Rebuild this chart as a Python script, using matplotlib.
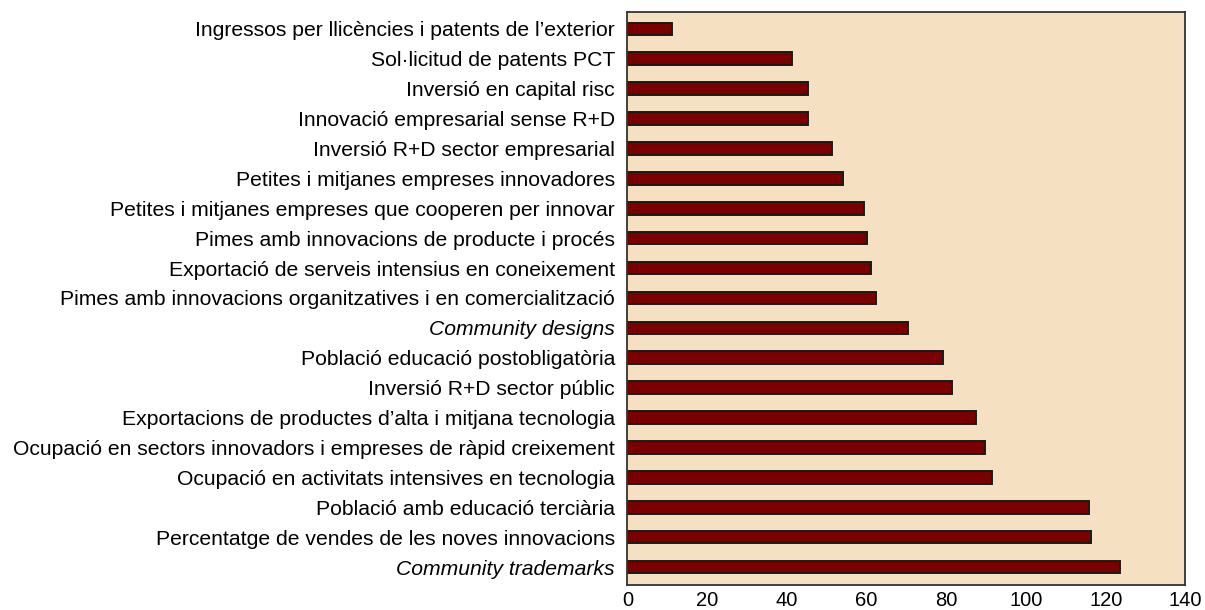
import matplotlib
matplotlib.use("Agg")
import matplotlib.pyplot as plt
import numpy as np

# indicator labels, top to bottom as in the chart
labels = [
    "Ingressos per llicències i patents de l\u2019exterior",
    "Sol\u00b7licitud de patents PCT",
    "Inversió en capital risc",
    "Innovació empresarial sense R+D",
    "Inversió R+D sector empresarial",
    "Petites i mitjanes empreses innovadores",
    "Petites i mitjanes empreses que cooperen per innovar",
    "Pimes amb innovacions de producte i procés",
    "Exportació de serveis intensius en coneixement",
    "Pimes amb innovacions organitzatives i en comercialització",
    "Community designs",
    "Població educació postobligatòria",
    "Inversió R+D sector públic",
    "Exportacions de productes d\u2019alta i mitjana tecnologia",
    "Ocupació en sectors innovadors i empreses de ràpid creixement",
    "Ocupació en activitats intensives en tecnologia",
    "Població amb educació terciària",
    "Percentatge de vendes de les noves innovacions",
    "Community trademarks",
]
values = [11.2, 41.3, 45.4, 45.4, 51.3, 54.2, 59.4, 60.2, 61.2, 62.3,
          70.3, 79.2, 81.4, 87.5, 89.6, 91.5, 115.7, 116.4, 123.5]
italic_labels = ["Community designs", "Community trademarks"]
xticks = [0, 20, 40, 60, 80, 100, 120, 140]

plt.rcParams['font.family'] = ['Liberation Sans', 'DejaVu Sans']

fig = plt.figure(figsize=(12.05, 6.1), dpi=100)
ax = fig.add_axes([0.5207, 0.041, 0.4631, 0.9387])
ax.set_facecolor('#f5e1c2')

# bars
y = np.arange(len(labels))
ax.barh(y, values, height=0.42, color='#7a0000', edgecolor='#1a1a1a', linewidth=1.4)

ax.set_xlim(0, 140)
ax.set_ylim(18.6, -0.55)
ax.set_xticks(xticks)
ax.set_yticks(y)
ax.set_yticklabels(labels, fontsize=15.2)
for t in ax.get_yticklabels():
    if t.get_text() in italic_labels:
        t.set_style('italic')
ax.tick_params(axis='x', length=0, pad=4, labelsize=14.5)
ax.tick_params(axis='y', length=0, pad=9)
for s in ax.spines.values():
    s.set_color('#333333')
    s.set_linewidth(1.3)

fig.savefig('out.png', dpi=100, facecolor='white')
